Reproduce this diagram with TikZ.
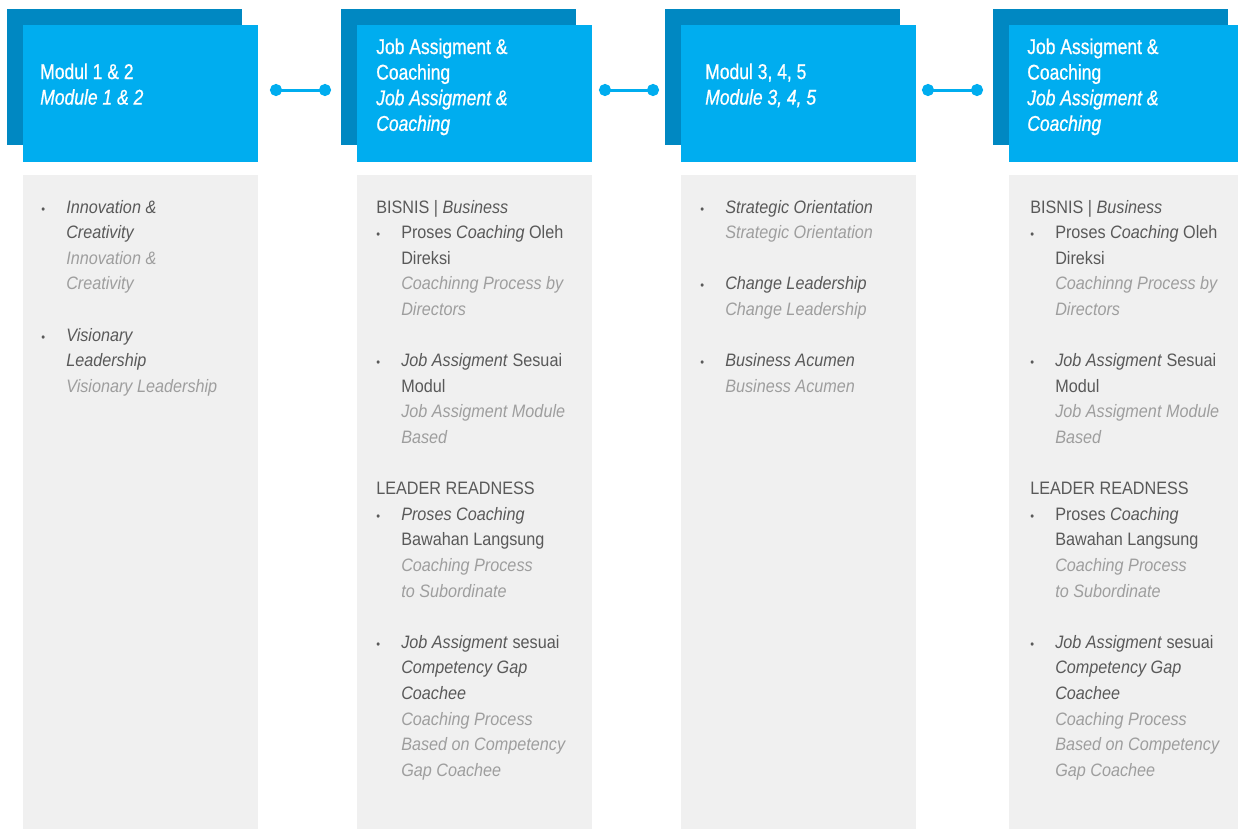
\documentclass[tikz,border=0pt]{standalone}
\usepackage{fontspec}
\setmainfont[FakeStretch=0.9]{Liberation Sans}
\newfontfamily\titlefont[FakeStretch=0.82,FakeBold=0.8]{Liberation Sans}
\usetikzlibrary{arrows.meta}

\newlength\px
\setlength\px{0.75pt}
\definecolor{darkblue}{RGB}{0,136,194}
\definecolor{lightblue}{RGB}{0,173,239}
\definecolor{panelgray}{RGB}{240,240,240}
\definecolor{txtdark}{RGB}{89,89,89}
\definecolor{txtlight}{RGB}{158,158,158}

% bullet line, continuation line, translation line
\newcommand{\bul}[1]{\hspace*{0\px}\makebox[25\px][l]{\small\textbullet}#1}
\newcommand{\cnt}[1]{\hspace*{25\px}#1}
\newcommand{\tr}[1]{\hspace*{25\px}\textcolor{txtlight}{\textit{#1}}}

\begin{document}
\begin{tikzpicture}[x=\px,y=-\px,
  backbox/.style = {fill=darkblue,anchor=north west,inner sep=0,minimum width=235\px,minimum height=136\px},
  headbox/.style = {fill=lightblue,anchor=north west,inner sep=0,minimum width=235\px,minimum height=137\px},
  panel/.style = {fill=panelgray,anchor=north west,inner sep=0,minimum width=235\px,minimum height=654\px},
  headtext/.style = {anchor=base west,align=left,inner sep=0,text=white,font=\titlefont\fontsize{16pt}{19.2pt}\selectfont},
  bodytext/.style = {anchor=base west,align=left,inner sep=0,text=txtdark,font=\fontsize{13.5pt}{19.2pt}\selectfont},
  link/.style = {draw=lightblue,line width=2.25pt,{Circle[length=9pt]}-{Circle[length=9pt]}}]

\useasboundingbox (0,0) rectangle (1238,829);

% boxes
\node[backbox] (back1) at (7,9) {};
\node[headbox] (head1) at (23,25) {};
\node[panel] (panel1) at (23,175) {};

\node[backbox] (back2) at (341,9) {};
\node[headbox] (head2) at (357,25) {};
\node[panel] (panel2) at (357,175) {};

\node[backbox] (back3) at (665,9) {};
\node[headbox] (head3) at (681,25) {};
\node[panel] (panel3) at (681,175) {};

\node[backbox] (back4) at (993,9) {};
\node[headbox,minimum width=229\px] (head4) at (1009,25) {};
\node[panel,minimum width=229\px] (panel4) at (1009,175) {};

% titles (placed at the baseline of their last line)
\node[headtext] (title1) at (40,{79+25.6}) {Modul 1 \& 2\\\textit{Module 1 \& 2}};
\node[headtext] (title2) at (376,{54+3*25.6}) {Job Assigment \&\\Coaching\\\textit{Job Assigment \&}\\\textit{Coaching}};
\node[headtext] (title3) at (705,{79+25.6}) {Modul 3, 4, 5\\\textit{Module 3, 4, 5}};
\node[headtext] (title4) at (1027,{54+3*25.6}) {Job Assigment \&\\Coaching\\\textit{Job Assigment \&}\\\textit{Coaching}};

% links
\coordinate (a1) at (270,90);
\coordinate (b1) at (331,90);
\coordinate (a2) at (599,90);
\coordinate (b2) at (659,90);
\coordinate (a3) at (922,90);
\coordinate (b3) at (983,90);
\draw[link] (a1) -- (b1);
\draw[link] (a2) -- (b2);
\draw[link] (a3) -- (b3);

% contents
\node[bodytext] (list1) at (41,{213+7*25.6}) {%
  \bul{\textit{Innovation \&}}\\
  \cnt{\textit{Creativity}}\\
  \tr{Innovation \&}\\
  \tr{Creativity}\\[19.2pt]
  \bul{\textit{Visionary}}\\
  \cnt{\textit{Leadership}}\\
  \tr{Visionary Leadership}};

\node[bodytext] (list2) at (376,{213+22*25.6}) {%
  BISNIS | \textit{Business}\\
  \bul{Proses \textit{Coaching} Oleh}\\
  \cnt{Direksi}\\
  \tr{Coachinng Process by}\\
  \tr{Directors}\\[19.2pt]
  \bul{\textit{Job Assigment} Sesuai}\\
  \cnt{Modul}\\
  \tr{Job Assigment Module}\\
  \tr{Based}\\[19.2pt]
  LEADER READNESS\\
  \bul{\textit{Proses Coaching}}\\
  \cnt{Bawahan Langsung}\\
  \tr{Coaching Process}\\
  \tr{to Subordinate}\\[19.2pt]
  \bul{\textit{Job Assigment} sesuai}\\
  \cnt{\textit{Competency Gap}}\\
  \cnt{\textit{Coachee}}\\
  \tr{Coaching Process}\\
  \tr{Based on Competency}\\
  \tr{Gap Coachee}};

\node[bodytext] (list3) at (700,{213+7*25.6}) {%
  \bul{\textit{Strategic Orientation}}\\
  \tr{Strategic Orientation}\\[19.2pt]
  \bul{\textit{Change Leadership}}\\
  \tr{Change Leadership}\\[19.2pt]
  \bul{\textit{Business Acumen}}\\
  \tr{Business Acumen}};

\node[bodytext] (list4) at (1030,{213+22*25.6}) {%
  BISNIS | \textit{Business}\\
  \bul{Proses \textit{Coaching} Oleh}\\
  \cnt{Direksi}\\
  \tr{Coachinng Process by}\\
  \tr{Directors}\\[19.2pt]
  \bul{\textit{Job Assigment} Sesuai}\\
  \cnt{Modul}\\
  \tr{Job Assigment Module}\\
  \tr{Based}\\[19.2pt]
  LEADER READNESS\\
  \bul{Proses \textit{Coaching}}\\
  \cnt{Bawahan Langsung}\\
  \tr{Coaching Process}\\
  \tr{to Subordinate}\\[19.2pt]
  \bul{\textit{Job Assigment} sesuai}\\
  \cnt{\textit{Competency Gap}}\\
  \cnt{\textit{Coachee}}\\
  \tr{Coaching Process}\\
  \tr{Based on Competency}\\
  \tr{Gap Coachee}};

\end{tikzpicture}
\end{document}
